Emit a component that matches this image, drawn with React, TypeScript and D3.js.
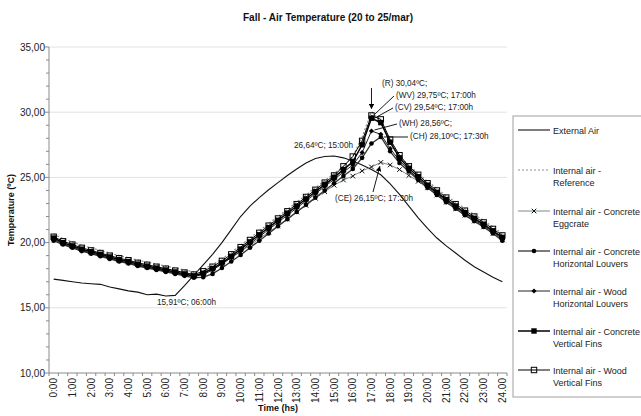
import React from 'react';
import * as d3 from 'd3';

const FONT = '"Liberation Sans", Arial, Helvetica, sans-serif';

// categories every 30 minutes
const times = [
  '0:00', '0:30', '1:00', '1:30', '2:00', '2:30', '3:00', '3:30', '4:00', '4:30',
  '5:00', '5:30', '6:00', '6:30', '7:00', '7:30', '8:00', '8:30', '9:00', '9:30',
  '10:00', '10:30', '11:00', '11:30', '12:00', '12:30', '13:00', '13:30', '14:00', '14:30',
  '15:00', '15:30', '16:00', '16:30', '17:00', '17:30', '18:00', '18:30', '19:00', '19:30',
  '20:00', '20:30', '21:00', '21:30', '22:00', '22:30', '23:00', '23:30', '24:00',
];

// axis labels (every hour)
const hourLabels = [
  '0:00', '1:00', '2:00', '3:00', '4:00', '5:00', '6:00', '7:00', '8:00', '9:00', '10:00', '11:00',
  '12:00', '13:00', '14:00', '15:00', '16:00', '17:00', '18:00', '19:00', '20:00', '21:00', '22:00', '23:00', '24.00',
];

const yTicks = [10, 15, 20, 25, 30, 35];

const externalAir = [
  17.2, 17.1, 17.0, 16.9, 16.85, 16.8, 16.6, 16.45, 16.3, 16.2,
  16.0, 16.05, 15.91, 15.95, 16.7, 17.5, 18.3, 19.1, 20.0, 21.0,
  22.0, 22.8, 23.45, 24.05, 24.6, 25.15, 25.65, 26.1, 26.45, 26.6,
  26.64, 26.5, 26.25, 25.95, 25.6, 25.2, 24.5, 23.7, 22.8, 21.9,
  21.1, 20.35, 19.75, 19.2, 18.65, 18.15, 17.75, 17.35, 17.0,
];

const reference = [
  20.65, 20.3, 20.05, 19.8, 19.6, 19.4, 19.2, 19.0, 18.85, 18.65,
  18.5, 18.35, 18.2, 18.05, 17.9, 17.75, 17.95, 18.3, 18.75, 19.25,
  19.8, 20.35, 20.9, 21.45, 22.0, 22.55, 23.1, 23.65, 24.2, 24.75,
  25.3, 25.85, 26.6, 28.1, 30.04, 29.3, 27.6, 26.6, 25.95, 25.3,
  24.7, 24.15, 23.6, 23.1, 22.6, 22.15, 21.7, 21.2, 20.7,
];

const concreteEggcrate = [
  20.3, 19.95, 19.7, 19.45, 19.25, 19.05, 18.85, 18.65, 18.5, 18.3,
  18.15, 18.0, 17.85, 17.7, 17.55, 17.45, 17.7, 18.0, 18.4, 18.85,
  19.3, 19.8, 20.3, 20.8, 21.3, 21.8, 22.35, 22.85, 23.4, 23.9,
  24.4, 24.8, 25.1, 25.5, 25.8, 26.15, 25.95, 25.6, 25.15, 24.7,
  24.2, 23.65, 23.1, 22.6, 22.1, 21.65, 21.2, 20.7, 20.25,
];

const concreteHoriz = [
  20.15, 19.85, 19.6, 19.35, 19.15, 18.95, 18.75, 18.55, 18.4, 18.2,
  18.05, 17.9, 17.75, 17.6, 17.45, 17.3, 17.35, 17.6, 18.05, 18.55,
  19.05, 19.6, 20.15, 20.7, 21.25, 21.8, 22.35, 22.9, 23.45, 24.0,
  24.55, 25.1, 25.65, 26.5, 27.6, 28.1, 27.0, 26.1, 25.45, 24.8,
  24.2, 23.65, 23.1, 22.6, 22.1, 21.65, 21.2, 20.7, 20.15,
];

const woodHoriz = [
  20.25, 19.9, 19.65, 19.4, 19.2, 19.0, 18.8, 18.6, 18.45, 18.25,
  18.1, 17.95, 17.8, 17.65, 17.5, 17.4, 17.55, 17.9, 18.35, 18.85,
  19.35, 19.9, 20.45, 21.0, 21.55, 22.1, 22.65, 23.2, 23.75, 24.3,
  24.85, 25.4, 25.95, 26.9, 28.56, 28.3, 27.2, 26.3, 25.55, 24.9,
  24.3, 23.75, 23.2, 22.7, 22.2, 21.75, 21.3, 20.8, 20.3,
];

const concreteVert = [
  20.35, 20.0, 19.75, 19.5, 19.3, 19.1, 18.9, 18.7, 18.55, 18.35,
  18.2, 18.05, 17.9, 17.75, 17.6, 17.45, 17.65, 18.0, 18.45, 18.95,
  19.5, 20.05, 20.6, 21.15, 21.7, 22.25, 22.8, 23.35, 23.9, 24.45,
  25.0, 25.6, 26.2, 27.5, 29.54, 29.2, 27.7, 26.5, 25.7, 25.05,
  24.4, 23.85, 23.3, 22.8, 22.3, 21.85, 21.4, 20.9, 20.4,
];

const woodVert = [
  20.45, 20.1, 19.85, 19.6, 19.4, 19.2, 19.0, 18.8, 18.65, 18.45,
  18.3, 18.15, 18.0, 17.85, 17.7, 17.55, 17.8, 18.15, 18.6, 19.1,
  19.65, 20.2, 20.75, 21.3, 21.85, 22.4, 22.95, 23.5, 24.05, 24.6,
  25.15, 25.85, 26.6, 27.8, 29.75, 29.45, 27.9, 26.7, 25.85, 25.2,
  24.55, 24.0, 23.45, 22.95, 22.45, 22.0, 21.55, 21.05, 20.55,
];

type Marker = 'none' | 'x' | 'circle' | 'diamond' | 'square' | 'openSquare';

const series: { label: string[]; values: number[]; stroke: string; width: number; dash?: string; marker: Marker }[] = [
  { label: ['External Air'], values: externalAir, stroke: '#111', width: 1.1, marker: 'none' },
  { label: ['Internal air -', 'Reference'], values: reference, stroke: '#8c8c8c', width: 1.2, dash: '2,2', marker: 'none' },
  { label: ['Internal air - Concrete', 'Eggcrate'], values: concreteEggcrate, stroke: '#7a8a8a', width: 1, marker: 'x' },
  { label: ['Internal air - Concrete', 'Horizontal Louvers'], values: concreteHoriz, stroke: '#333', width: 1.3, marker: 'circle' },
  { label: ['Internal air - Wood', 'Horizontal Louvers'], values: woodHoriz, stroke: '#222', width: 1, marker: 'diamond' },
  { label: ['Internal air - Concrete', 'Vertical Fins'], values: concreteVert, stroke: '#000', width: 1.5, marker: 'square' },
  { label: ['Internal air - Wood', 'Vertical Fins'], values: woodVert, stroke: '#000', width: 1, marker: 'openSquare' },
];

const annotations = [
  { text: '(R) 30,04ºC;', x: 382, y: 86 },
  { text: '(WV) 29,75ºC; 17:00h', x: 396, y: 98 },
  { text: '(CV) 29,54ºC; 17:00h', x: 395, y: 110 },
  { text: '(WH) 28,56ºC;', x: 399, y: 126 },
  { text: '(CH) 28,10ºC; 17:30h', x: 410, y: 139 },
  { text: '26,64ºC; 15:00h', x: 294, y: 148 },
  { text: '(CE) 26,15ºC; 17:30h', x: 335, y: 201 },
  { text: '15,91ºC; 06:00h', x: 157, y: 305 },
];

function drawMarker(m: Marker, x: number, y: number, key: string | number) {
  switch (m) {
    case 'x':
      return (
        <path key={key} d={`M${x - 2.3},${y - 2.3}L${x + 2.3},${y + 2.3}M${x - 2.3},${y + 2.3}L${x + 2.3},${y - 2.3}`}
          stroke="#111" strokeWidth={1} />
      );
    case 'circle':
      return <circle key={key} cx={x} cy={y} r={2.3} fill="#000" />;
    case 'diamond':
      return <path key={key} d={`M${x},${y - 2.6}L${x + 2.6},${y}L${x},${y + 2.6}L${x - 2.6},${y}Z`} fill="#000" />;
    case 'square':
      return <rect key={key} x={x - 2.7} y={y - 2.7} width={5.4} height={5.4} fill="#000" />;
    case 'openSquare':
      return <rect key={key} x={x - 2.7} y={y - 2.7} width={5.4} height={5.4} fill="none" stroke="#000" strokeWidth={1} />;
    default:
      return null;
  }
}

export default function App() {
  React.useEffect(() => {
    document.body.style.margin = '0';
  }, []);

  const width = 641;
  const height = 416;
  const left = 49;
  const right = 507;
  const top = 47;
  const bottom = 373;

  const x = d3.scaleBand<string>().domain(times).range([left, right]);
  const cx = (i: number) => (x(times[i]) as number) + x.bandwidth() / 2;
  const y = d3.scaleLinear().domain([10, 35]).range([bottom, top]);
  const fmt = (v: number) => d3.format('.2f')(v).replace('.', ',');

  const line = d3.line<number>().x((_, i) => cx(i)).y(d => y(d));

  const minorTicks = d3.range(10, 35.01, 1);

  // peak points used by leader lines
  const p17 = cx(times.indexOf('17:00'));
  const p1730 = cx(times.indexOf('17:30'));

  return (
    <svg width={width} height={height} style={{ display: 'block', background: '#fff', fontFamily: FONT }}>
      <defs>
        <marker id="arr" viewBox="0 0 10 10" refX="9" refY="5" markerWidth="6" markerHeight="6" orient="auto-start-reverse">
          <path d="M0,0L10,5L0,10Z" fill="#000" />
        </marker>
      </defs>

      <text x={328} y={21} textAnchor="middle" fontSize={10} fontWeight="bold" fill="#111">
        Fall - Air Temperature (20 to 25/mar)
      </text>

      {/* grid */}
      {yTicks.filter(t => t > 10).map(t => (
        <line key={t} x1={left} x2={right} y1={y(t)} y2={y(t)} stroke="#e2e2e2" strokeWidth={1} />
      ))}

      {/* y axis */}
      <line x1={left} x2={left} y1={top} y2={bottom} stroke="#8a8a8a" />
      {minorTicks.map(t => (
        <line key={t} x1={left - (t % 5 === 0 ? 4 : 3)} x2={left} y1={y(t)} y2={y(t)} stroke="#8a8a8a" />
      ))}
      {yTicks.map(t => (
        <text key={t} x={45} y={y(t) + 3.5} textAnchor="end" fontSize={10} fill="#222">{fmt(t)}</text>
      ))}
      <text transform={`translate(14,${(top + bottom) / 2}) rotate(-90)`} textAnchor="middle" fontSize={9} fontWeight="bold" fill="#111">
        Temperature (ºC)
      </text>

      {/* x axis */}
      <line x1={left} x2={right} y1={bottom} y2={bottom} stroke="#8a8a8a" />
      {d3.range(times.length + 1).map(i => (
        <line key={i} x1={left + i * x.bandwidth()} x2={left + i * x.bandwidth()} y1={bottom} y2={bottom + 3} stroke="#8a8a8a" />
      ))}
      {hourLabels.map((lab, i) => (
        <text key={lab} transform={`translate(${cx(i * 2) + 3.5},${bottom + 5}) rotate(-90)`} textAnchor="end" fontSize={10} fill="#222">
          {lab}
        </text>
      ))}
      <text x={(left + right) / 2} y={411} textAnchor="middle" fontSize={9} fontWeight="bold" fill="#111">Time (hs)</text>

      {/* series */}
      {series.map((s, si) => (
        <g key={si}>
          <path d={line(s.values) || ''} fill="none" stroke={s.stroke} strokeWidth={s.width} strokeDasharray={s.dash} />
          {s.values.map((v, i) => drawMarker(s.marker, cx(i), y(v), i))}
        </g>
      ))}

      {/* annotations */}
      <g fontSize={8.2} fill="#222">
        {annotations.map(a => (
          <text key={a.text} x={a.x} y={a.y}>{a.text}</text>
        ))}
      </g>
      <g stroke="#000" strokeWidth={0.9} fill="none">
        <line x1={p17} y1={88} x2={p17} y2={y(30.04) - 3} markerEnd="url(#arr)" />
        <line x1={394} y1={96} x2={p17 + 3} y2={y(29.75) - 1} />
        <line x1={393} y1={108} x2={p17 + 3} y2={y(29.54)} />
        <line x1={397} y1={124} x2={p17 + 3} y2={y(28.56) - 1} />
        <line x1={408} y1={137} x2={p1730 + 3} y2={y(28.1)} />
        <line x1={373} y1={192} x2={p1730 - 1} y2={y(26.15) + 4} markerEnd="url(#arr)" />
      </g>

      {/* legend */}
      <rect x={513} y={116} width={140} height={281} fill="#fff" stroke="#a0a0a0" />
      {series.map((s, si) => {
        const ly = [130, 170, 211, 251, 291, 331, 370][si];
        return (
          <g key={si}>
            <line x1={518} x2={550} y1={ly} y2={ly} stroke={s.stroke} strokeWidth={s.width} strokeDasharray={s.dash} />
            {drawMarker(s.marker, 534, ly, 'm')}
            {s.label.map((t, k) => (
              <text key={k} x={553} y={ly + 3.5 + k * 12} fontSize={9} fill="#222">{t}</text>
            ))}
          </g>
        );
      })}
    </svg>
  );
}
